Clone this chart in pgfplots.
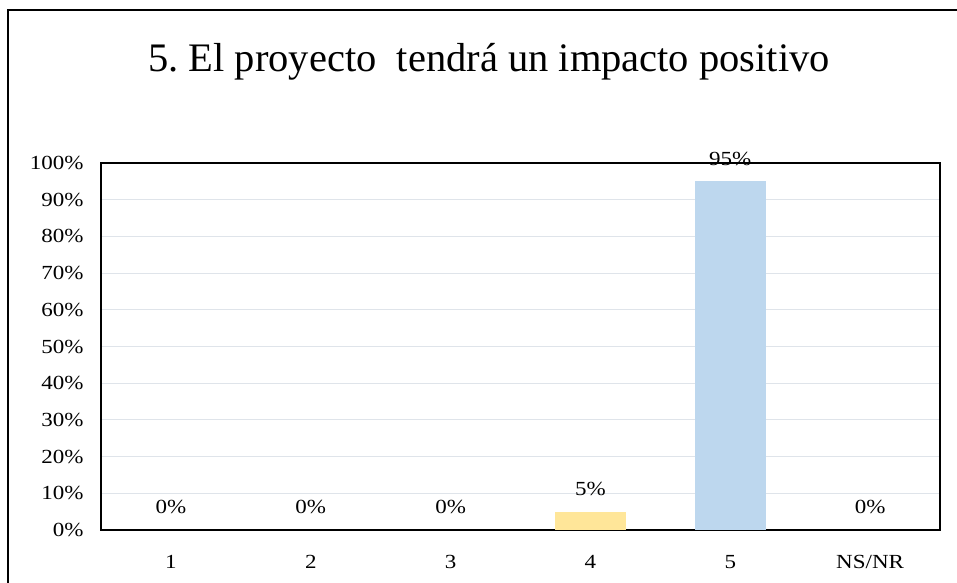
\documentclass[border=0pt]{standalone}
\usepackage{fontspec}
\setmainfont{Liberation Serif}
\newfontfamily\tickfont[FakeStretch=1.15]{Liberation Serif}
\usepackage{pgfplots}
\pgfplotsset{compat=1.18}
\definecolor{baryellow}{HTML}{FFE699}
\definecolor{barblue}{HTML}{BDD7EE}
\definecolor{gridc}{HTML}{DFE4EA}
\frenchspacing
\begin{document}
\begin{tikzpicture}[x=1bp,y=1bp]
\useasboundingbox (0,0) rectangle (957,583);
\clip (0,0) rectangle (957,583);
\draw[line width=1.6bp] (8,-20) -- (8,573) -- (990,573);
\node[anchor=base, inner sep=0pt, font=\fontsize{40.5bp}{48bp}\selectfont] at (489,511) {5. El proyecto\ \ tendrá un impacto positivo};
\begin{axis}[
  at={(101bp,53bp)}, anchor=south west,
  scale only axis, width=839bp, height=367bp,
  xmin=-0.5, xmax=5.5, ymin=0, ymax=100,
  ybar, bar width=71bp, bar shift=0pt,
  axis line style={black, line width=1.3bp},
  major tick length=0pt,
  xtick={0,1,2,3,4,5},
  xticklabels={1,2,3,4,5,NS/NR},
  ytick={0,10,20,30,40,50,60,70,80,90,100},
  yticklabels={0\%,10\%,20\%,30\%,40\%,50\%,60\%,70\%,80\%,90\%,100\%},
  ymajorgrids, xmajorgrids=false,
  grid style={gridc, line width=1bp},
  ticklabel style={font=\tickfont\fontsize{20bp}{22bp}\selectfont},
  yticklabel style={xshift=-14bp},
  xticklabel style={yshift=-22bp},
  nodes near coords={\pgfmathprintnumber{\pgfplotspointmeta}\%},
  nodes near coords style={font=\tickfont\fontsize{20bp}{22bp}\selectfont, anchor=base, inner sep=0pt, yshift=16bp},
  /pgf/number format/assume math mode=true,
]
\addplot[draw=none, fill=none] coordinates {(0,0) (1,0) (2,0) (5,0)};
\addplot[draw=none, fill=baryellow] coordinates {(3,5)};
\addplot[draw=none, fill=barblue] coordinates {(4,95)};
\end{axis}
\end{tikzpicture}
\end{document}
